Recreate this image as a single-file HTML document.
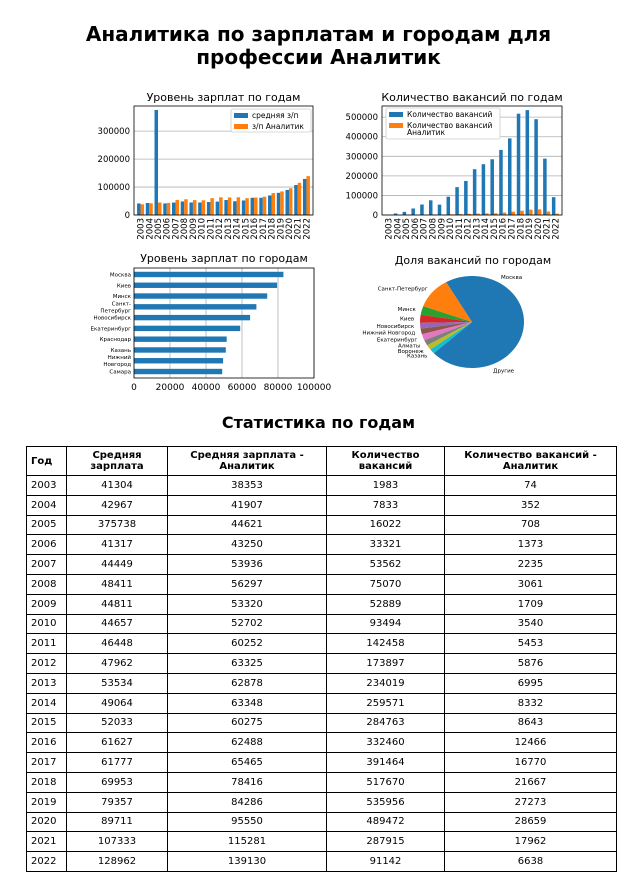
<!DOCTYPE html>
<html><head><meta charset="utf-8">
<style>
body{margin:0;width:637px;height:875px;background:#fff;font-family:"DejaVu Sans","Liberation Sans",sans-serif;overflow:hidden;position:relative}
h1{position:absolute;top:23px;left:0;width:637px;margin:0;text-align:center;font-size:20px;line-height:23px;font-weight:bold;color:#000}
h2{position:absolute;top:413px;left:0;width:637px;margin:0;text-align:center;font-size:16px;font-weight:bold}
svg{position:absolute;left:0;top:0}
table{position:absolute;left:26px;top:446px;width:591px;border-collapse:collapse;font-size:10px}
td,th{border:1px solid #000;text-align:center;height:18.8px;padding:0}
th{height:28px;font-weight:bold;font-size:10px}
td:first-child,th:first-child{text-align:left;padding-left:4px}
</style></head><body>
<h1>Аналитика по зарплатам и городам для<br>профессии Аналитик</h1>
<svg id="charts" width="637" height="410" font-family="DejaVu Sans, Liberation Sans, sans-serif"></svg>
<h2>Статистика по годам</h2>
<table>
<thead><tr><th style="width:35px">Год</th><th style="width:100px">Средняя<br>зарплата</th><th style="width:158px">Средняя зарплата -<br>Аналитик</th><th style="width:117px">Количество<br>вакансий</th><th>Количество вакансий -<br>Аналитик</th></tr></thead>
<tbody id="tb"></tbody></table>
<script>
const years=[2003,2004,2005,2006,2007,2008,2009,2010,2011,2012,2013,2014,2015,2016,2017,2018,2019,2020,2021,2022];
const salary=[41304,42967,375738,41317,44449,48411,44811,44657,46448,47962,53534,49064,52033,61627,61777,69953,79357,89711,107333,128962];
const salaryAn=[38353,41907,44621,43250,53936,56297,53320,52702,60252,63325,62878,63348,60275,62488,65465,78416,84286,95550,115281,139130];
const vac=[1983,7833,16022,33321,53562,75070,52889,93494,142458,173897,234019,259571,284763,332460,391464,517670,535956,489472,287915,91142];
const vacAn=[74,352,708,1373,2235,3061,1709,3540,5453,5876,6995,8332,8643,12466,16770,21667,27273,28659,17962,6638];
const cities=["Москва","Киев","Минск","Санкт-\nПетербург","Новосибирск","Екатеринбург","Краснодар","Казань","Нижний\nНовгород","Самара"];
const citySal=[83000,79500,74000,68000,64500,59000,51500,51000,49500,49000];
const pieLabels=["Москва","Санкт-Петербург","Минск","Киев","Новосибирск","Нижний Новгород","Екатеринбург","Алматы","Воронеж","Казань","Другие"];
const pieVals=[0.333,0.111,0.031,0.028,0.02,0.02,0.022,0.02,0.017,0.017,0.381];
const yTicks1=[0,100000,200000,300000];
const yTicks2=[0,100000,200000,300000,400000,500000];
const xTicks3=[0,20000,40000,60000,80000,100000];

const tb=document.getElementById('tb');
years.forEach((y,i)=>{const tr=document.createElement('tr');


tr.innerHTML=`<td>${y}</td><td>${salary[i]}</td><td>${salaryAn[i]}</td><td>${vac[i]}</td><td>${vacAn[i]}</td>`;tb.appendChild(tr);});

const S=document.getElementById('charts');const NS='http://www.w3.org/2000/svg';
function el(t,a,txt,p){const e=document.createElementNS(NS,t);for(const k in a)e.setAttribute(k,a[k]);if(txt!=null)e.textContent=txt;(p||S).appendChild(e);return e;}
const BLUE='#1f77b4',ORANGE='#ff7f0e';

function yearChart(x0,x1,y0,y1,ymax,ticks,A,B,title,n1,n2,legBox,nm){
  const g=el('g',{});
  const xs=i=>x0+(i+0.75)*(x1-x0)/20.5;const ys=v=>y1-v/ymax*(y1-y0);
  el('text',{x:(x0+x1)/2,y:y0-5,'text-anchor':'middle','font-size':11},title,g);
  ticks.forEach(t=>{el('line',{x1:x0,x2:x1,y1:ys(t),y2:ys(t),stroke:'#b0b0b0','stroke-width':0.8},null,g);
    el('text',{x:x0-4,y:ys(t)+3,'text-anchor':'end','font-size':8.5},String(t),g);});
  const bw=0.4*(x1-x0)/20.5;
  years.forEach((y,i)=>{const c=xs(i);
    const b1=el('rect',{x:c-bw,y:ys(A[i]),width:bw,height:y1-ys(A[i]),fill:BLUE},null,g);
    
    const b2=el('rect',{x:c,y:ys(B[i]),width:bw,height:y1-ys(B[i]),fill:ORANGE},null,g);
    
    el('text',{x:0,y:0,'font-size':8.5,transform:`translate(${c+3},${y1+3}) rotate(-90)`,'text-anchor':'end'},String(y),g);});
  el('rect',{x:x0,y:y0,width:x1-x0,height:y1-y0,fill:'none',stroke:'#000','stroke-width':0.8},null,g);
  const [lx,ly,lw,lh]=legBox;
  const lg=el('g',{},null,g);
  el('rect',{x:lx,y:ly,width:lw,height:lh,fill:'#fff',stroke:'#ccc','stroke-width':0.8,rx:2},null,lg);
  el('rect',{x:lx+3,y:ly+4,width:14,height:5,fill:BLUE},null,lg);
  el('text',{x:lx+21,y:ly+9,'font-size':7.5},n1,lg);
  el('rect',{x:lx+3,y:ly+15,width:14,height:5,fill:ORANGE},null,lg);
  n2.split('\n').forEach((s,k)=>el('text',{x:lx+21,y:ly+20+k*7,'font-size':7.5},s,lg));
}
yearChart(134,313,106,215,390000,yTicks1,salary,salaryAn,'Уровень зарплат по годам','средняя з/п','з/п Аналитик',[231,109,80,23],'salary-by-year-chart');
yearChart(382,562,106,215,557000,yTicks2,vac,vacAn,'Количество вакансий по годам','Количество вакансий','Количество вакансий\nАналитик',[386,108,114,31],'vacancies-by-year-chart');

(function(){const x0=134,x1=314,y0=268,y1=378;const g=el('g',{});

const xs=v=>x0+v/100000*(x1-x0);
el('text',{x:(x0+x1)/2,y:y0-6,'text-anchor':'middle','font-size':11},'Уровень зарплат по городам',g);
xTicks3.forEach(t=>{el('line',{x1:xs(t),x2:xs(t),y1:y0,y2:y1,stroke:'#b0b0b0','stroke-width':0.8},null,g);
 el('text',{x:xs(t),y:y1+12,'text-anchor':'middle','font-size':9},String(t),g);});
const step=(y1-y0)/10.2;
cities.forEach((c,i)=>{const cy=y0+(i+0.6)*step;
 const b=el('rect',{x:x0,y:cy-2.7,width:xs(citySal[i])-x0,height:5.4,fill:BLUE},null,g);
 
 const ls=c.split('\n');ls.forEach((s,k)=>el('text',{x:x0-3,y:cy+2+(k-(ls.length-1)/2)*7,'text-anchor':'end','font-size':5.5},s,g));});
el('rect',{x:x0,y:y0,width:x1-x0,height:y1-y0,fill:'none',stroke:'#000','stroke-width':0.8},null,g);})();

(function(){const cx=472,cy=322,rx=52,ry=46;const g=el('g',{});

el('text',{x:473,y:264,'text-anchor':'middle','font-size':11},'Доля вакансий по городам',g);
const cols=['#1f77b4','#ff7f0e','#2ca02c','#d62728','#9467bd','#8c564b','#e377c2','#7f7f7f','#bcbd22','#17becf','#1f77b4'];
const tot=pieVals.reduce((a,b)=>a+b,0);let a=0;
pieVals.forEach((v,i)=>{const a1=a+v/tot*2*Math.PI;
 const p0=[cx+rx*Math.cos(a),cy-ry*Math.sin(a)],p1=[cx+rx*Math.cos(a1),cy-ry*Math.sin(a1)];
 const s=el('path',{d:`M${cx},${cy}L${p0[0]},${p0[1]}A${rx},${ry} 0 ${a1-a>Math.PI?1:0} 0 ${p1[0]},${p1[1]}Z`,fill:cols[i]},null,g);
 
 const m=(a+a1)/2;const lx=cx+(rx+6)*Math.cos(m),ly=cy-(ry+6)*Math.sin(m);
 el('text',{x:lx,y:ly+2,'text-anchor':Math.cos(m)<0?'end':'start','font-size':5.5},pieLabels[i],g);
 a=a1;});})();
</script>
</body></html>
